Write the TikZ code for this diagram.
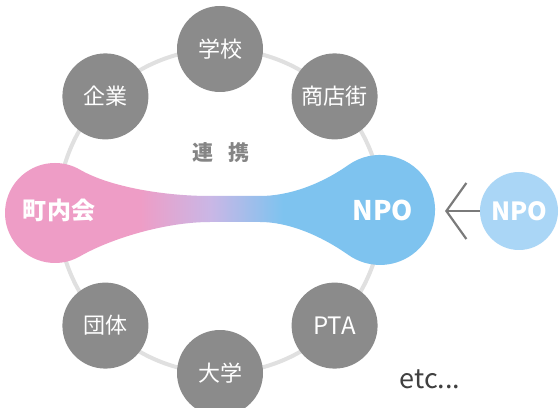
\documentclass[tikz,border=0pt]{standalone}
\usepackage{fontspec}
\newfontfamily\jp{Noto Sans CJK JP}
\usetikzlibrary{arrows.meta}
\definecolor{cpink}{HTML}{EE9DC6}
\definecolor{clav}{HTML}{C9B7E6}
\definecolor{cblue}{HTML}{7EC3EF}
\definecolor{csmall}{HTML}{AAD6F6}
\definecolor{cgray}{HTML}{8B8B8B}
\definecolor{cring}{HTML}{E0E0E0}
\definecolor{ctext}{HTML}{858585}
\definecolor{carrow}{HTML}{7A7A7A}
\pgfdeclarehorizontalshading{blobshade}{100bp}{color(0bp)=(cpink); color(41bp)=(cpink); color(49bp)=(clav); color(57bp)=(cblue); color(100bp)=(cblue)}
\tikzset{
  member/.style={circle, fill=cgray, minimum size=86pt, inner sep=0pt, text=white, font=\jp\fontsize{22}{24}\selectfont},
  blobtext/.style={text=white, font=\jp\bfseries\fontsize{24}{26}\selectfont, inner sep=0pt},
  ringline/.style={draw=cring, line width=4pt},
  arrowline/.style={draw=carrow, line width=2.2pt, -{Straight Barb[length=20pt,width=56pt]}}
}
\begin{document}
\begin{tikzpicture}[x=1pt,y=1pt]
\useasboundingbox (0,0) rectangle (559,407);
\fill[white] (0,0) rectangle (559,407);
% ring
\draw[ringline] (220,196) circle[radius=162];
% blob
\shade[shading=blobshade]
  (80,237.3) .. controls (110.3,219.8) and (165,211) .. (210,211)
  -- (260,211)
  .. controls (288,211) and (319.8,221.9) .. (348.5,242.1)
  arc[start angle=125, end angle=-125, radius=55]
  .. controls (319.8,172.1) and (288,185) .. (260,185)
  -- (210,185)
  .. controls (165,185) and (110.3,168.2) .. (80,150.7)
  arc[start angle=-60, end angle=-300, radius=50] -- cycle;
\node[blobtext] (chonai) at (59,197) {町内会};
\node[blobtext, font=\jp\bfseries\fontsize{27}{29}\selectfont] (npo) at (383,197) {NPO};
% small NPO
\node[circle, fill=csmall, minimum size=78pt, inner sep=0pt, text=white, font=\jp\bfseries\fontsize{25}{27}\selectfont] (snpo) at (519,196) {NPO};
\coordinate (tip) at (445,196);
\draw[arrowline] (snpo.west) -- (tip);
% members
\node[member] (gakko) at (220,358) {学校};
\node[member] (kigyo) at (105.4,310.6) {企業};
\node[member] (shoten) at (334.6,310.6) {商店街};
\node[member] (dantai) at (105.4,81.4) {団体};
\node[member] (daigaku) at (220,34) {大学};
\node[member, font=\jp\fontsize{24}{26}\selectfont] (pta) at (334.6,81.4) {PTA};
% labels
\node[text=ctext, font=\jp\bfseries\fontsize{21}{23}\selectfont] (renkei) at (221,254) {連\hspace{0.7em}携};
\node[text=black!75, font=\jp\fontsize{27}{29}\selectfont, anchor=base west] (etc) at (396,19) {etc...};
\end{tikzpicture}
\end{document}
